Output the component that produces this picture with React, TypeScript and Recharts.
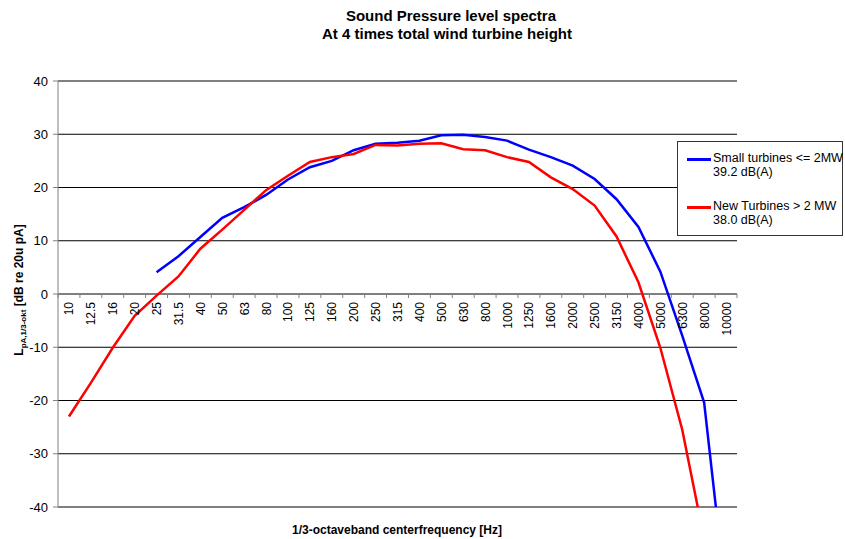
import { CartesianGrid, Line, LineChart, ReferenceLine, XAxis, YAxis } from "recharts";

// 1/3-octave band centre frequencies (Hz)
const frequencies = [
  "10", "12.5", "16", "20", "25", "31.5", "40", "50", "63", "80", "100", "125", "160", "200", "250",
  "315", "400", "500", "630", "800", "1000", "1250", "1600", "2000", "2500", "3150", "4000", "5000",
  "6300", "8000", "10000",
];

// Small turbines <= 2MW, dB(A) per band (starts at 25 Hz)
const smallTurbines = [
  null, null, null, null, 4.1, 7.1, 10.7, 14.3, 16.3, 18.6, 21.5, 23.8, 25.0, 27.0, 28.2,
  28.4, 28.8, 29.8, 29.9, 29.5, 28.8, 27.1, 25.7, 24.1, 21.6, 17.8, 12.6, 4.2,
  -7.8, -20.4, -57,
];

// New turbines > 2 MW
const newTurbines = [
  -23.0, -16.7, -10.1, -4.1, -0.3, 3.3, 8.5, 12.1, 15.8, 19.5, 22.2, 24.8, 25.7, 26.3, 28.0,
  27.9, 28.2, 28.3, 27.2, 27.0, 25.7, 24.8, 21.9, 19.7, 16.6, 10.8, 2.2, -10.1,
  -25.5, -46, null,
];

const yTicks = [-40, -30, -20, -10, 0, 10, 20, 30, 40];

const data = frequencies.map((freq, i) => ({
  freq,
  small: smallTurbines[i],
  large: newTurbines[i],
}));

const W = 845;
const H = 539;
const PLOT_LEFT = 58;
const PLOT_RIGHT = 737;
const PLOT_TOP = 81;
const PLOT_BOTTOM = 507;
const ZERO_Y = (PLOT_TOP + PLOT_BOTTOM) / 2;
const BAND = (PLOT_RIGHT - PLOT_LEFT) / frequencies.length;
const FONT = "'Liberation Sans', Arial, sans-serif";

// x-axis sits on the 0 dB line, Excel style: marks between bands, labels rotated
function FreqTick(props: any) {
  const { x, payload } = props;
  const half = BAND / 2;
  const last = payload.value === frequencies[frequencies.length - 1];
  return (
    <g>
      <line x1={x - half} x2={x - half} y1={ZERO_Y} y2={ZERO_Y + 4} stroke="#808080" />
      {last && <line x1={x + half} x2={x + half} y1={ZERO_Y} y2={ZERO_Y + 4} stroke="#808080" />}
      <text
        transform={`translate(${x + 4.5},${ZERO_Y + 8}) rotate(-90)`}
        textAnchor="end"
        fontSize={12}
        fontFamily={FONT}
        fill="#000"
      >
        {payload.value}
      </text>
    </g>
  );
}

export default function App() {
  return (
    <div style={{ position: "absolute", left: 0, top: 0, width: W, height: H, background: "#fff", fontFamily: FONT }}>
      <LineChart
        width={W}
        height={H}
        data={data}
        margin={{ top: PLOT_TOP, right: W - PLOT_RIGHT, bottom: H - PLOT_BOTTOM - 1, left: PLOT_LEFT - 40 }}
      >
        <CartesianGrid vertical={false} stroke="#000" />
        <XAxis
          dataKey="freq"
          scale="point"
          height={1}
          interval={0}
          padding={{ left: BAND / 2, right: BAND / 2 }}
          axisLine={false}
          tickLine={false}
          tick={<FreqTick />}
        />
        <YAxis
          width={40}
          domain={[-40, 40]}
          ticks={yTicks}
          interval={0}
          allowDataOverflow
          tickSize={5}
          tickMargin={5}
          axisLine={{ stroke: "#808080" }}
          tickLine={{ stroke: "#808080" }}
          tick={{ fontSize: 13, fill: "#000", fontFamily: FONT }}
        />
        <ReferenceLine y={0} stroke="#808080" />
        <Line
          type="linear"
          dataKey="small"
          stroke="#0000ff"
          strokeWidth={2.5}
          dot={false}
          isAnimationActive={false}
        />
        <Line
          type="linear"
          dataKey="large"
          stroke="#ff0000"
          strokeWidth={2.5}
          dot={false}
          isAnimationActive={false}
        />
      </LineChart>

      <svg width={W} height={H} style={{ position: "absolute", left: 0, top: 0, pointerEvents: "none" }}>
        <text x={451} y={21} textAnchor="middle" fontSize={15} fontWeight="bold" fontFamily={FONT}>
          Sound Pressure level spectra
        </text>
        <text x={447} y={39} textAnchor="middle" fontSize={15} fontWeight="bold" fontFamily={FONT}>
          At 4 times total wind turbine height
        </text>
        <text x={397} y={534} textAnchor="middle" fontSize={12} fontWeight="bold" fontFamily={FONT}>
          1/3-octaveband centerfrequency [Hz]
        </text>
        <text
          transform="translate(23,290) rotate(-90)"
          textAnchor="middle"
          fontSize={12}
          fontWeight="bold"
          fontFamily={FONT}
        >
          <tspan>L</tspan>
          <tspan fontSize={8} dy={3}>pA,1/3-okt</tspan>
          <tspan dy={-3}> [dB re 20u pA]</tspan>
        </text>
      </svg>

      <div
        style={{
          position: "absolute",
          left: 677,
          top: 141,
          width: 166,
          height: 95,
          boxSizing: "border-box",
          border: "1px solid #333",
          background: "#fff",
          fontSize: 12.5,
          lineHeight: "14px",
          color: "#000",
        }}
      >
        <div style={{ position: "absolute", left: 9, top: 16, width: 24, height: 2.5, background: "#0000ff" }} />
        <div style={{ position: "absolute", left: 35, top: 9, whiteSpace: "nowrap" }}>
          Small turbines &lt;= 2MW
          <br />
          39.2 dB(A)
        </div>
        <div style={{ position: "absolute", left: 9, top: 64, width: 24, height: 2.5, background: "#ff0000" }} />
        <div style={{ position: "absolute", left: 35, top: 57, whiteSpace: "nowrap" }}>
          New Turbines &gt; 2 MW
          <br />
          38.0 dB(A)
        </div>
      </div>
    </div>
  );
}
